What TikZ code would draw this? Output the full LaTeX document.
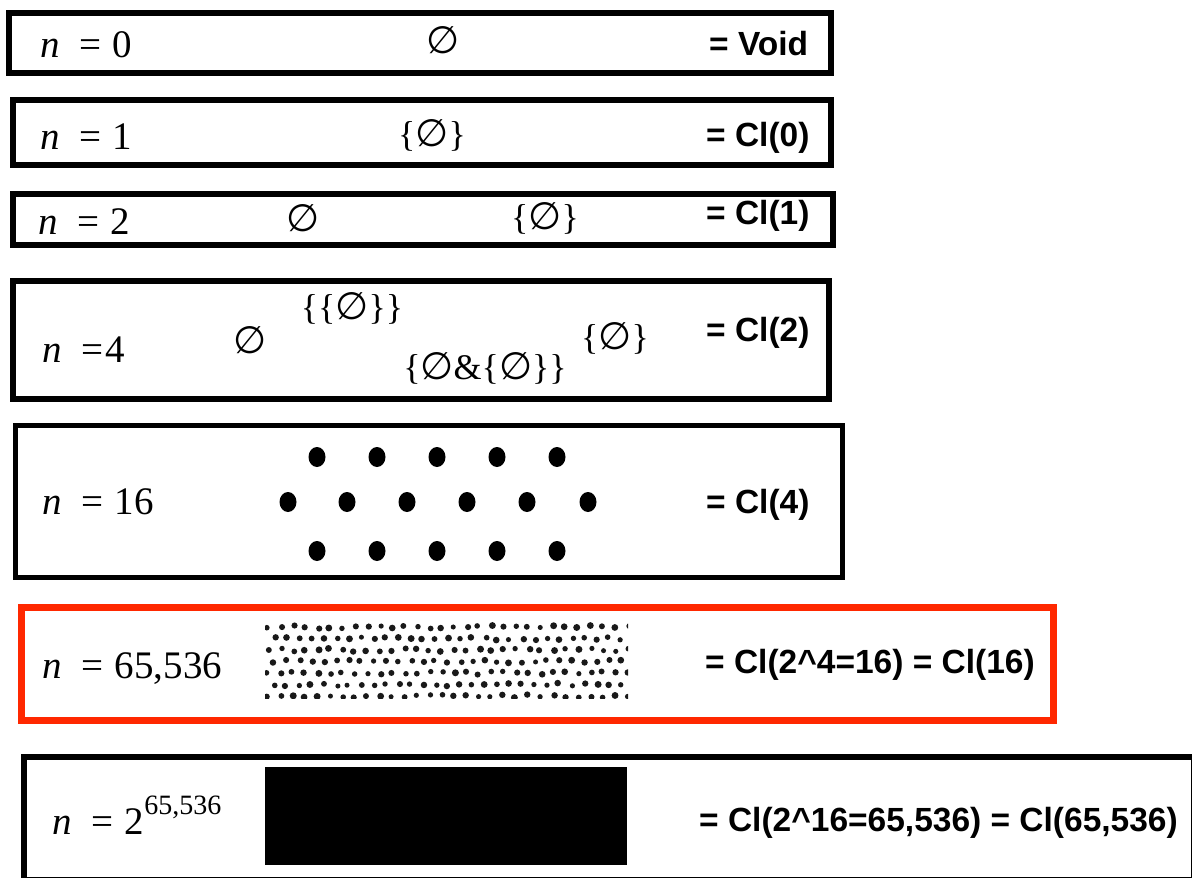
\documentclass[tikz,border=0pt]{standalone}
\usepackage{fontspec}
\setmainfont{Liberation Serif}
\setsansfont{Liberation Sans}
\newfontfamily\dvsans{DejaVu Sans}
\newcommand\es{{\dvsans\fontsize{38}{38}\selectfont ∅}}
\newcommand\eqs{\hspace{0.5em}=\hspace{0.3em}}
\definecolor{boxred}{RGB}{255,40,0}
\tikzset{
  lbl/.style={anchor=base west, inner sep=0pt, font=\fontsize{39}{42}\selectfont},
  rlbl/.style={anchor=base west, inner sep=0pt, font=\sffamily\bfseries\fontsize{33.5}{38}\selectfont},
  elt/.style={inner sep=0pt, font=\fontsize{36}{40}\selectfont},
  frame/.style={draw=black, line width=6pt},
  bigdot/.style={fill=black, draw=none},
  stip/.style={fill=black!90, draw=none},
}
\begin{document}
\begin{tikzpicture}[x=1pt,y=-1pt]
\useasboundingbox (0,0) rectangle (1192,878);
\fill[white] (0,0) rectangle (1192,878);

% frames
\draw[frame] (9,13) rectangle (831,73);
\draw[frame] (13,100) rectangle (831,165);
\draw[frame] (13,194) rectangle (833,245);
\draw[frame] (13,281) rectangle (829,399);
\draw[frame, line width=5pt] (15,425) rectangle (842,577);
\draw[frame, draw=boxred, line width=7pt] (21,607) rectangle (1053.5,720);
\draw[frame] (24,757) rectangle (1194,880);

% row n=0
\node[lbl] (l0) at (40,57) {\textit{n}\eqs 0};
\node[elt] (e0) at (443,40) {\es};
\node[rlbl] (r0) at (709,55) {= Void};

% row n=1
\node[lbl] (l1) at (40,149) {\textit{n}\eqs 1};
\node[elt] (e1) at (432,135) {\{\es\}};
\node[rlbl] (r1) at (706,146) {= Cl(0)};

% row n=2
\node[lbl] (l2) at (38,234) {\textit{n}\eqs 2};
\node[elt] (e2a) at (303,218) {\es};
\node[elt] (e2b) at (545,218) {\{\es\}};
\node[rlbl] (r2) at (706,224) {= Cl(1)};

% row n=4
\node[lbl] (l4) at (42,362) {\textit{n}\hspace{0.5em}=\hspace{0.05em}4};
\node[elt] (e4a) at (250,340) {\es};
\node[elt] (e4b) at (352,308) {\{\{\es\}\}};
\node[elt] (e4c) at (485,368) {\{\es\&\{\es\}\}};
\node[elt] (e4d) at (615,338) {\{\es\}};
\node[rlbl] (r4) at (706,341) {= Cl(2)};

% row n=16
\node[lbl] (l16) at (42,514) {\textit{n}\eqs 16};
\foreach \x in {317,377,437,497,557} \fill[bigdot] (\x,457) ellipse (8.5 and 10);
\foreach \x in {288,347,407,467,527,588} \fill[bigdot] (\x,502) ellipse (8.5 and 10);
\foreach \x in {317,377,437,497,557} \fill[bigdot] (\x,551) ellipse (8.5 and 10);
\node[rlbl] (r16) at (706,513) {= Cl(4)};

% row n=65,536
\node[lbl] (l65) at (42,678) {\textit{n}\eqs 65,536};
\begin{scope}
\clip (265,622) rectangle (628,698);
\pgfmathsetseed{12}
\foreach \r in {0,...,6}{
  \foreach \c in {0,...,29}{
    \pgfmathsetmacro\px{268+\c*12.4+mod(\r,2)*6.2+1.8*rand}
    \pgfmathsetmacro\py{627+\r*11.5+1.6*rand}
    \pgfmathsetmacro\rr{3.0+0.5*rand}
    \fill[stip] (\px,\py) circle (\rr);
  }
}
\end{scope}
\node[rlbl] (r65) at (705,673) {= Cl(2\^{}4=16) = Cl(16)};

% row n=2^65,536
\node[lbl] (lbig) at (52,834) {\textit{n}\eqs 2\raisebox{0.5em}{\fontsize{28}{28}\selectfont 65,536}};
\fill[black] (265,767) rectangle (627,865);
\node[rlbl] (rbig) at (699,831) {= Cl(2\^{}16=65,536) = Cl(65,536)};
\end{tikzpicture}
\end{document}
